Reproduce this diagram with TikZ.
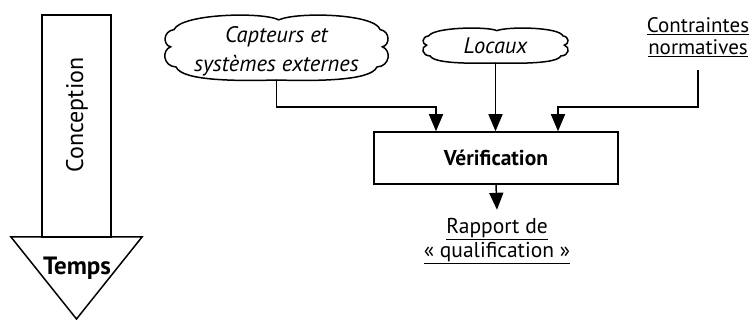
\documentclass[tikz,border=0pt]{standalone}
\usepackage{fontspec}
\setmainfont{PT Sans}
\usetikzlibrary{arrows.meta}

% contour en nuage : centre, demi-largeur, demi-hauteur
\newcommand{\nuage}[3]{%
  \begin{scope}[shift={(#1)}, x=#2pt, y=#3pt]
    \draw[trait] (-0.92,0.55)
      .. controls (-0.85,1.05) and (-0.12,1.1) .. (0.02,0.85)
      .. controls (0.18,1.1) and (0.88,1.05) .. (0.93,0.55)
      .. controls (1.02,0.5) and (1.02,0.08) .. (0.95,0.02)
      .. controls (1.03,-0.08) and (1.02,-0.58) .. (0.9,-0.6)
      .. controls (0.85,-1.05) and (0.3,-1.03) .. (0,-1)
      .. controls (-0.3,-1.03) and (-0.85,-1.05) .. (-0.9,-0.6)
      .. controls (-1.02,-0.58) and (-1.03,-0.08) .. (-0.95,0.02)
      .. controls (-1.02,0.08) and (-1.02,0.5) .. (-0.92,0.55) -- cycle;
  \end{scope}}

\tikzset{
  trait/.style={line width=1.5pt, line join=miter},
  fleche/.style={trait, -{Triangle[length=17pt,width=14pt]}},
  boite/.style={draw, trait, inner sep=0pt},
  titre/.style={font=\bfseries\fontsize{21.5}{24}\selectfont},
  nuagetexte/.style={inner sep=0pt, align=center, font=\itshape\fontsize{22.5}{29}\selectfont},
  souligne/.style={align=center, inner sep=0pt, font=\fontsize{21}{22}\selectfont}
}

\begin{document}
\begin{tikzpicture}[x=1pt, y=-1pt]
  \useasboundingbox (0,0) rectangle (750,320);

  % fleche du temps
  \draw[trait] (42,15) rectangle (111,237);
  \draw[trait] (11,237) -- (142,237) -- (76.5,319) -- cycle;
  \node[rotate=90, font=\fontsize{24}{24}\selectfont] (conc) at (77,115) {Conception};
  \node[titre, font=\bfseries\fontsize{25}{24}\selectfont] (temps) at (77,268) {Temps};

  % entrees
  \node[nuagetexte, minimum width=223pt, minimum height=57pt] (capt) at (276.5,51.5)
    {Capteurs et\\systèmes externes};
  \nuage{[yshift=4pt]capt.center}{111.5}{32.5}
  \node[nuagetexte, minimum width=145pt, minimum height=35pt] (loc) at (495.5,45.5) {Locaux};
  \nuage{loc.center}{72.5}{17.5}
  \node[souligne, minimum height=66pt] (contr) at (698,37)
    {\underline{Contraintes}\\\underline{normatives}};

  \node[boite, titre, minimum width=244pt, minimum height=52pt] (verif) at (496,158) {Vérification};
  \node[souligne, font=\fontsize{21.5}{24}\selectfont, minimum height=62pt] (rapp) at (497,241)
    {\underline{Rapport de}\\\underline{« qualification »}};

  \coordinate (e1) at (436,107);
  \coordinate (e3) at (558,107);
  \draw[fleche] (capt.south) |- (e1) -- (e1 |- verif.north);
  \draw[fleche] (loc.south) -- (loc.south |- verif.north);
  \draw[fleche] (contr.south) |- (e3) -- (e3 |- verif.north);
  \draw[fleche] (verif.south) -- (rapp.north);
\end{tikzpicture}
\end{document}
